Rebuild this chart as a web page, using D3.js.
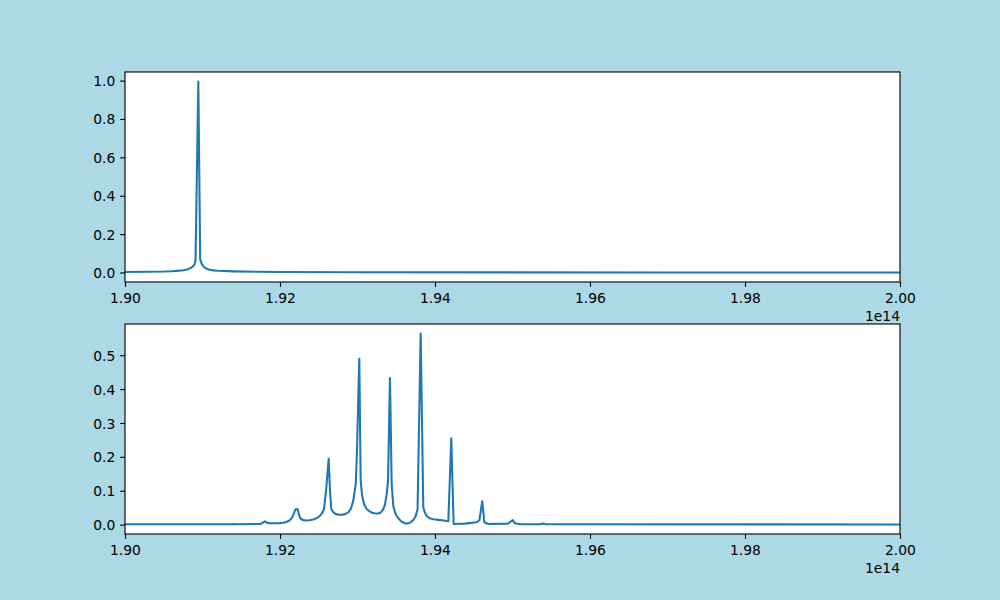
<!DOCTYPE html>
<html>
<head>
<meta charset="utf-8">
<script src="https://cdn.jsdelivr.net/npm/d3@7"></script>
<style>
  html, body { margin: 0; padding: 0; background: #add8e6; }
  svg { display: block; font-family: "DejaVu Sans", sans-serif; }
</style>
</head>
<body>
<svg id="chart" width="1000" height="600"></svg>
<script>
// x values in units of 1e14 Hz
const xTicks = [1.90, 1.92, 1.94, 1.96, 1.98, 2.00];
const xDomain = [1.90, 2.00];
const offsetLabel = "1e14";
const topYTicks = [0.0, 0.2, 0.4, 0.6, 0.8, 1.0];
const bottomYTicks = [0.0, 0.1, 0.2, 0.3, 0.4, 0.5];

const topX = [1.900, 1.903, 1.905, 1.906, 1.907, 1.9075, 1.908, 1.9085, 1.9088, 1.9090, 1.9091, 1.90946, 1.9097, 1.9099, 1.9101, 1.9104, 1.9108, 1.9114, 1.9120, 1.9140, 1.9170, 1.9200, 1.9300, 1.9500, 1.9700, 2.0000];
const topY = [0.003, 0.004, 0.005, 0.007, 0.010, 0.012, 0.016, 0.024, 0.033, 0.045, 0.062, 0.995, 0.070, 0.045, 0.033, 0.022, 0.016, 0.011, 0.009, 0.006, 0.004, 0.003, 0.0015, 0.0008, 0.0005, 0.0003];

const botX = [1.9000, 1.9129, 1.91368, 1.91397, 1.91432, 1.91742, 1.91774, 1.91806, 1.91849, 1.92000, 1.92060, 1.92107, 1.92140, 1.92164, 1.92190, 1.92206, 1.92228, 1.92258, 1.92290, 1.92330, 1.92380, 1.92430, 1.92480, 1.92520, 1.92550, 1.92568, 1.92594, 1.92628, 1.92645, 1.92662, 1.92690, 1.92720, 1.92760, 1.92800, 1.92840, 1.92881, 1.92915, 1.92946, 1.92977, 1.92991, 1.93023, 1.93041, 1.93060, 1.93085, 1.93115, 1.93150, 1.93190, 1.93230, 1.93270, 1.93300, 1.93330, 1.93355, 1.93377, 1.93394, 1.93419, 1.93441, 1.93462, 1.93485, 1.93510, 1.93540, 1.93575, 1.93610, 1.93640, 1.93670, 1.93700, 1.93725, 1.93750, 1.93775, 1.93815, 1.93849, 1.93870, 1.93895, 1.93930, 1.93980, 1.94043, 1.94110, 1.94172, 1.94210, 1.94241, 1.94387, 1.94538, 1.94572, 1.94610, 1.94636, 1.94688, 1.94942, 1.95003, 1.95032, 1.95097, 1.95355, 1.95397, 1.95432, 2.0000];
const botY = [0.001, 0.001, 0.001, 0.002, 0.001, 0.002, 0.005, 0.0098, 0.004, 0.004, 0.006, 0.010, 0.016, 0.024, 0.040, 0.046, 0.045, 0.020, 0.014, 0.012, 0.013, 0.015, 0.020, 0.027, 0.037, 0.046, 0.100, 0.194, 0.100, 0.046, 0.036, 0.031, 0.029, 0.029, 0.031, 0.036, 0.047, 0.071, 0.120, 0.200, 0.490, 0.130, 0.085, 0.060, 0.047, 0.040, 0.035, 0.033, 0.033, 0.036, 0.044, 0.060, 0.091, 0.130, 0.433, 0.120, 0.055, 0.035, 0.024, 0.015, 0.008, 0.004, 0.003, 0.005, 0.009, 0.015, 0.025, 0.045, 0.564, 0.051, 0.035, 0.025, 0.019, 0.016, 0.014, 0.012, 0.010, 0.255, 0.002, 0.003, 0.007, 0.013, 0.069, 0.007, 0.002, 0.003, 0.013, 0.004, 0.001, 0.001, 0.003, 0.001, 0.0005];

const svg = d3.select("#chart");
const left = 125, right = 900;
const fs = 13.89;
const tickLen = 4.86, pad = 4.86;
const panels = [
  { top: 72, bottom: 282, xs: topX, ys: topY, yticks: topYTicks },
  { top: 324, bottom: 534, xs: botX, ys: botY, yticks: bottomYTicks }
];

panels.forEach(p => {
  const ext = d3.extent(p.ys);
  const m = 0.05 * (ext[1] - ext[0]);
  const x = d3.scaleLinear().domain(xDomain).range([left, right]);
  const y = d3.scaleLinear().domain([ext[0] - m, ext[1] + m]).range([p.bottom, p.top]);

  const g = svg.append("g");
  g.append("rect").attr("x", left).attr("y", p.top)
    .attr("width", right - left).attr("height", p.bottom - p.top)
    .attr("fill", "#ffffff");

  const data = p.xs.map((v, i) => [v, p.ys[i]]);
  const line = d3.line().x(d => x(d[0])).y(d => y(d[1]));
  g.append("path").datum(data).attr("d", line)
    .attr("fill", "none").attr("stroke", "#1f77b4")
    .attr("stroke-width", 2.08).attr("stroke-linejoin", "round").attr("stroke-linecap", "butt");

  // x axis
  const xa = g.append("g").attr("transform", `translate(0,${p.bottom})`)
    .call(d3.axisBottom(x).tickValues(xTicks).tickFormat(d3.format(".2f"))
      .tickSize(tickLen).tickPadding(pad).tickSizeOuter(0));
  xa.select(".domain").remove();
  xa.selectAll("line").attr("stroke", "#000").attr("stroke-width", 1.11);
  xa.selectAll("text").attr("font-size", fs).attr("font-family", "DejaVu Sans, sans-serif")
    .attr("fill", "#000").attr("dy", null).attr("y", 21.3);

  // y axis
  const ya = g.append("g").attr("transform", `translate(${left},0)`)
    .call(d3.axisLeft(y).tickValues(p.yticks).tickFormat(d3.format(".1f"))
      .tickSize(tickLen).tickPadding(pad).tickSizeOuter(0));
  ya.select(".domain").remove();
  ya.selectAll("line").attr("stroke", "#000").attr("stroke-width", 1.11);
  ya.selectAll("text").attr("font-size", fs).attr("font-family", "DejaVu Sans, sans-serif")
    .attr("fill", "#000").attr("dy", "0.36em").attr("x", -(tickLen + pad));

  // spines
  g.append("rect").attr("x", left).attr("y", p.top)
    .attr("width", right - left).attr("height", p.bottom - p.top)
    .attr("fill", "none").attr("stroke", "#000").attr("stroke-width", 1.11);

  // offset text
  g.append("text").attr("x", right).attr("y", p.bottom + 39.2)
    .attr("text-anchor", "end").attr("font-size", fs).attr("fill", "#000")
    .text(offsetLabel);
});
</script>
</body>
</html>
